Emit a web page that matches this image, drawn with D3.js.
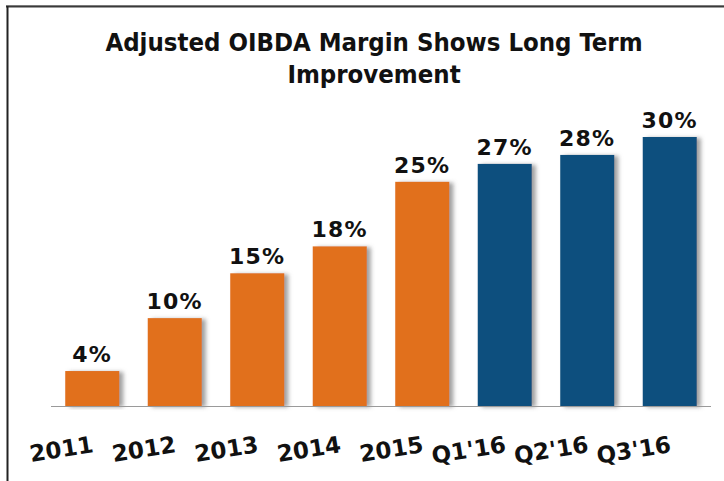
<!DOCTYPE html>
<html>
<head>
<meta charset="utf-8">
<script src="https://cdn.jsdelivr.net/npm/d3@7"></script>
<style>
  html, body { margin: 0; padding: 0; background: #fff; }
  svg { display: block; }
</style>
</head>
<body>
<svg id="chart" width="724" height="481"></svg>
<script>
const categories = ["2011", "2012", "2013", "2014", "2015", "Q1'16", "Q2'16", "Q3'16"];
const values = [3.9, 9.8, 14.8, 17.8, 25.0, 27.0, 28.0, 30.0];
const valueLabels = ["4%", "10%", "15%", "18%", "25%", "27%", "28%", "30%"];
const periodType = ["year", "year", "year", "year", "year", "quarter", "quarter", "quarter"];
const titleLines = ["Adjusted OIBDA Margin Shows Long Term", "Improvement"];

const colors = { year: "#E1701E", quarter: "#09507E" };

const svg = d3.select("#chart");

// frame (top and left edges visible)
svg.append("line").attr("x1", 6).attr("x2", 724).attr("y1", 5.5).attr("y2", 5.5)
  .attr("stroke", "#bbb").attr("stroke-width", 1);
svg.append("line").attr("x1", 6).attr("x2", 724).attr("y1", 6.5).attr("y2", 6.5)
  .attr("stroke", "#3a3a3a").attr("stroke-width", 2);
svg.append("line").attr("x1", 7.5).attr("x2", 7.5).attr("y1", 6).attr("y2", 481)
  .attr("stroke", "#222").attr("stroke-width", 2);

const defs = svg.append("defs");
const f = defs.append("filter").attr("id", "shadow")
  .attr("x", "-10%").attr("y", "-10%").attr("width", "130%").attr("height", "120%");
f.append("feDropShadow").attr("dx", 4).attr("dy", 1).attr("stdDeviation", 2)
  .attr("flood-color", "#777").attr("flood-opacity", 0.7);

const x = d3.scaleBand().domain(categories).range([51, 711])
  .paddingInner(0.345).paddingOuter(0.1725);
const y = d3.scaleLinear().domain([0, 30]).range([406, 137]);

// title
const title = svg.append("text")
  .attr("x", 374).attr("y", 51)
  .attr("text-anchor", "middle")
  .attr("font-family", "'DejaVu Sans Condensed', 'DejaVu Sans', sans-serif")
  .attr("font-stretch", "condensed")
  .attr("font-weight", "bold")
  .attr("font-size", 25.5)
  .attr("fill", "#111");
titleLines.forEach((t, i) => {
  title.append("tspan").attr("x", 374).attr("dy", i === 0 ? 0 : 32).text(t);
});

const data = categories.map((c, i) => ({ c, v: values[i], label: valueLabels[i], type: periodType[i] }));

// bars
svg.append("g").selectAll("rect").data(data).join("rect")
  .attr("x", d => x(d.c))
  .attr("y", d => y(d.v))
  .attr("width", x.bandwidth())
  .attr("height", d => y(0) - y(d.v))
  .attr("fill", d => colors[d.type])
  .attr("filter", "url(#shadow)");

// baseline
svg.append("line").attr("x1", 51).attr("x2", 711).attr("y1", y(0) + 0.5).attr("y2", y(0) + 0.5)
  .attr("stroke", "#9a9a9a").attr("stroke-width", 1.2);

// value labels
svg.append("g").selectAll("text").data(data).join("text")
  .attr("x", d => x(d.c) + x.bandwidth() / 2)
  .attr("y", d => y(d.v) - 9)
  .attr("text-anchor", "middle")
  .attr("font-family", "'DejaVu Sans', Verdana, sans-serif")
  .attr("font-weight", "bold")
  .attr("font-size", 22)
  .attr("letter-spacing", 1.2)
  .attr("fill", "#111")
  .text(d => d.label);

// category labels (tilted)
const axis = d3.axisBottom(x).tickSize(0).tickPadding(0);
const ag = svg.append("g").attr("transform", `translate(0, ${y(0)})`).call(axis);
ag.select(".domain").remove();
ag.selectAll(".tick text")
  .attr("font-family", "'DejaVu Sans', Verdana, sans-serif")
  .attr("font-weight", "bold")
  .attr("font-size", 23)
  .attr("fill", "#111")
  .attr("text-anchor", "end")
  .attr("dy", 0)
  .attr("y", 0)
  .attr("transform", "translate(2, 46) rotate(-9)");
</script>
</body>
</html>
